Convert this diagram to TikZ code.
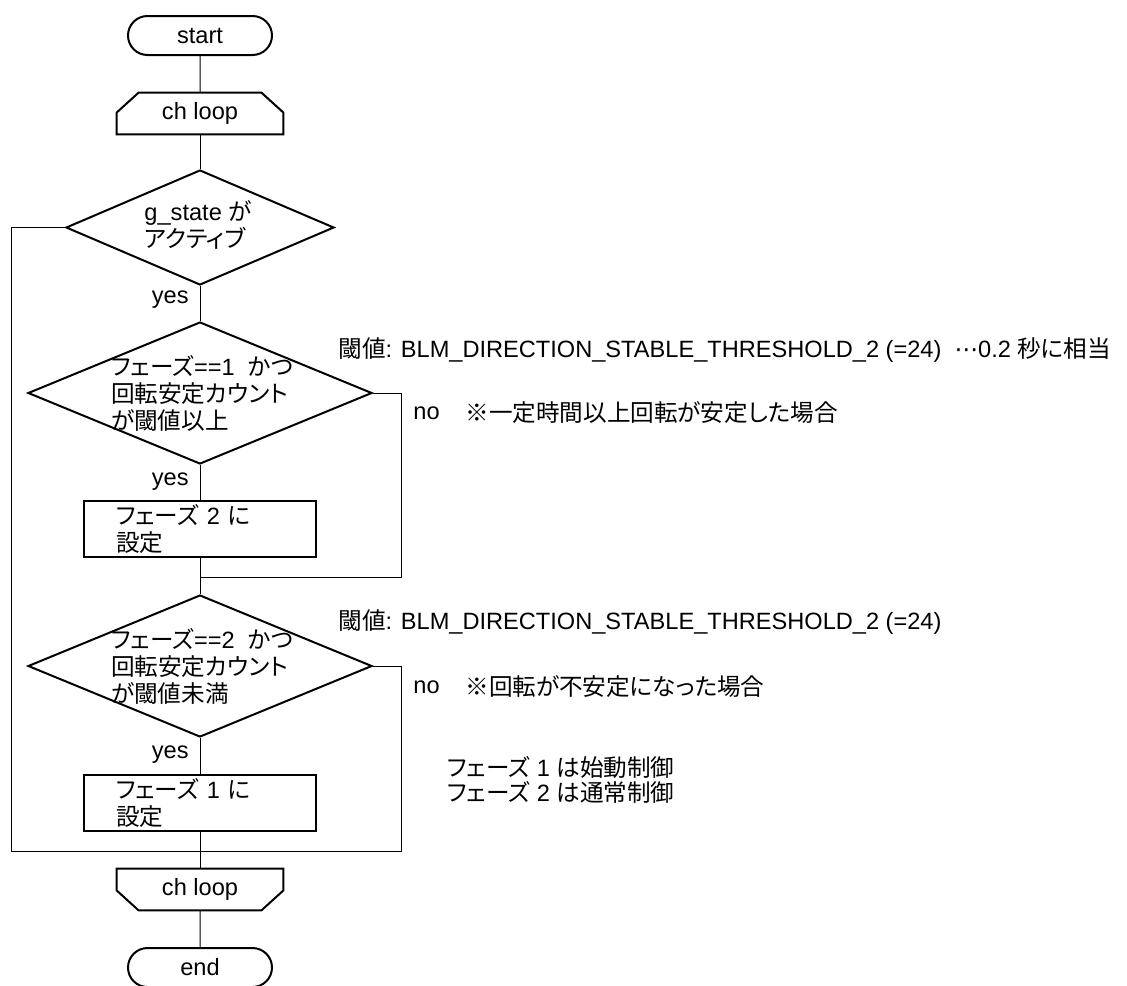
\documentclass[tikz,border=0pt]{standalone}
\usepackage{fontspec}
\setmainfont{Liberation Sans}
\newfontfamily\jpfont[RawFeature=+palt]{Noto Sans CJK JP}
\newfontfamily\symfont{DejaVu Sans}
\usetikzlibrary{shapes.geometric, shapes.misc}

\tikzset{
  flow/.style={line width=0.5pt},
  outline/.style={line width=1pt},
  term/.style={draw, outline, rounded rectangle, minimum width=72pt, minimum height=19.5pt, inner sep=0pt},
  loopbox/.style={minimum width=83pt, minimum height=20.5pt, inner sep=0pt},
  decision/.style={draw, outline, diamond, inner sep=0pt},
  dectext/.style={align=left, inner sep=0pt},
  process/.style={draw, outline, rectangle, minimum width=116pt, minimum height=28pt, text width=84pt, align=left, inner xsep=16pt, inner ysep=0pt},
  note/.style={anchor=west, inner sep=0pt},
  answer/.style={anchor=east, inner sep=0pt}
}

\begin{document}
\begin{tikzpicture}[x=0.5pt, y=-0.5pt, font=\fontsize{11.8pt}{13.5pt}\selectfont]
        \useasboundingbox (0,0) rectangle (1127,985);

        % draw the terminals and the loop limits
        \node[term] (start) at (200,35.5) {start};
        \node[loopbox] (loopA) at (200,113.5) {ch loop};
        \draw[outline] (loopA.south west) -- ([yshift=-10pt]loopA.north west) -- ([xshift=11pt]loopA.north west)
              -- ([xshift=-11pt]loopA.north east) -- ([yshift=-10pt]loopA.north east) -- (loopA.south east) -- cycle;
        \node[loopbox] (loopB) at (200,889.5) {ch loop};
        \draw[outline] (loopB.north west) -- ([yshift=10pt]loopB.south west) -- ([xshift=11pt]loopB.south west)
              -- ([xshift=-11pt]loopB.south east) -- ([yshift=10pt]loopB.south east) -- (loopB.north east) -- cycle;
        \node[term] (end) at (200,967.5) {end};

        % draw the decisions
        \node[decision, minimum width=134pt, minimum height=57.5pt] (dec0) at (200,227.5) {};
        \node[dectext] (dec0t) at (198,224.5) {g\_state {\jpfont が}\\{\jpfont アクティブ}};
        \node[decision, minimum width=172pt, minimum height=71pt] (dec1) at (200,393) {};
        \node[dectext] (dec1t) at (202,393.5) {{\jpfont フェーズ}==1\ \ {\jpfont かつ}\\{\jpfont 回転安定カウント}\\{\jpfont が閾値以上}};
        \node[decision, minimum width=172pt, minimum height=71pt] (dec2) at (200,666) {};
        \node[dectext] (dec2t) at (202,666.5) {{\jpfont フェーズ}==2\ \ {\jpfont かつ}\\{\jpfont 回転安定カウント}\\{\jpfont が閾値未満}};

        % draw the processes
        \node[process] (set2) at (200,529) {{\jpfont フェーズ} 2 {\jpfont に}\\{\jpfont 設定}};
        \node[process] (set1) at (200,803) {{\jpfont フェーズ} 1 {\jpfont に}\\{\jpfont 設定}};

        % the yes labels
        \node[answer] (yes0) at (189,300) {yes};
        \node[answer] (yes1) at (189,482) {yes};
        \node[answer] (yes2) at (189,755) {yes};

        % draw the main line
        \draw[flow] (start) -- (loopA);
        \draw[flow] (loopA) -- (dec0);
        \draw[flow] (dec0) -- (dec1);
        \draw[flow] (dec1) -- (set2);
        \draw[flow] (set2) -- (dec2);
        \draw[flow] (dec2) -- (set1);
        \draw[flow] (set1) -- (loopB);
        \draw[flow] (loopB) -- (end);

        % the no branches
        \coordinate (join1) at (200,577);
        \coordinate (right1) at (401,577);
        \coordinate (left2) at (11,851);
        \coordinate (right2) at (401,851);
        \draw[flow] (dec1.east) -| (right1) -- (join1);
        \draw[flow] (dec0.west) -| (left2) -- (right2) |- (dec2.east);

        % the notes on the right
        \node[note] (thr1) at (338,350) {{\jpfont 閾値}: BLM\_DIRECTION\_STABLE\_THRESHOLD\_2 (=24)\ \ {\symfont ⋯}0.2 {\jpfont 秒に相当}};
        \node[note] (no1) at (413,413) {no};
        \node[note] (cmt1) at (465,413) {{\jpfont ※一定時間以上回転が安定した場合}};
        \node[note] (thr2) at (338,622) {{\jpfont 閾値}: BLM\_DIRECTION\_STABLE\_THRESHOLD\_2 (=24)};
        \node[note] (no2) at (413,687) {no};
        \node[note] (cmt2) at (465,687) {{\jpfont ※回転が不安定になった場合}};
        \node[note, align=left, font=\fontsize{11.8pt}{12.5pt}\selectfont] (phase) at (447,779.5)
              {{\jpfont フェーズ} 1 {\jpfont は始動制御}\\{\jpfont フェーズ} 2 {\jpfont は通常制御}};
\end{tikzpicture}
\end{document}
